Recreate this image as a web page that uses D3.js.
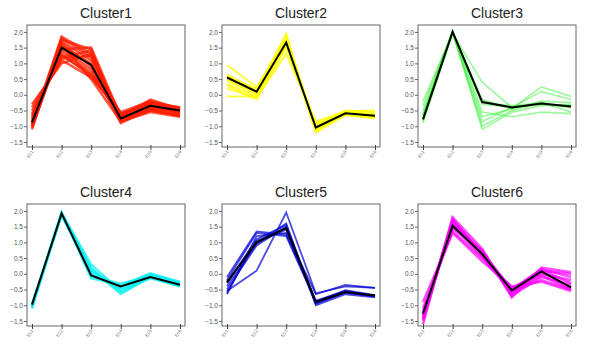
<!DOCTYPE html>
<html><head><meta charset="utf-8">
<script src="https://cdn.jsdelivr.net/npm/d3@7"></script>
<style>body{margin:0;background:#fff}svg{display:block}</style>
</head><body>
<script>
const samples = ["E01","E02","E03","E04","E05","E06"];
const yTicks = [2.0,1.5,1.0,0.5,0.0,-0.5,-1.0,-1.5];
const clusterNames = ["Cluster1","Cluster2","Cluster3","Cluster4","Cluster5","Cluster6"];
const clusterColors = ["rgba(255,30,0,0.75)","rgba(255,255,0,0.75)","rgba(40,240,40,0.45)","rgba(0,240,240,0.7)","rgba(0,0,215,0.7)","rgba(255,0,255,0.7)"];
const memberWidths = [2.5,2,1.6,2.2,1.8,2.5];

const means1 = [-0.88,1.5,0.95,-0.75,-0.35,-0.5];
const members1 = [
 [-1.1,1.75,1.45,-0.85,-0.5,-0.65],[-1.0,1.8,1.2,-0.8,-0.4,-0.6],[-0.95,1.65,0.9,-0.9,-0.45,-0.55],
 [-0.85,1.55,1.0,-0.7,-0.3,-0.5],[-0.8,1.4,0.7,-0.65,-0.2,-0.45],[-0.7,1.3,0.6,-0.6,-0.25,-0.4],
 [-0.5,1.15,1.25,-0.75,-0.35,-0.55],[-0.3,1.0,1.3,-0.7,-0.15,-0.45],[-1.05,1.6,0.5,-0.85,-0.55,-0.7],
 [-0.9,1.7,1.1,-0.6,-0.3,-0.6],[-0.6,1.2,1.4,-0.8,-0.4,-0.5],[-1.0,1.5,0.8,-0.75,-0.5,-0.65],
 [-0.75,1.45,1.5,-0.7,-0.25,-0.4],[-0.4,1.1,0.55,-0.55,-0.2,-0.5],[-0.95,1.85,1.3,-0.8,-0.45,-0.68],
 [-0.65,1.25,0.65,-0.62,-0.28,-0.42]
];
const means2 = [0.55,0.1,1.66,-1.04,-0.59,-0.67];
const members2 = [
 [0.95,0.25,1.7,-1.0,-0.55,-0.65],[0.65,0.15,1.8,-1.1,-0.6,-0.7],[0.6,0.1,1.95,-1.15,-0.62,-0.72],
 [0.5,0.05,1.6,-0.95,-0.55,-0.6],[0.45,0.0,1.75,-1.05,-0.58,-0.68],[0.35,-0.05,1.5,-1.0,-0.5,-0.55],
 [0.2,-0.1,1.3,-0.85,-0.52,-0.5],[-0.05,-0.05,1.65,-1.2,-0.65,-0.75],[0.55,0.2,1.85,-1.1,-0.6,-0.7],
 [0.3,-0.15,1.55,-0.9,-0.55,-0.62]
];
const means3 = [-0.78,2.0,-0.23,-0.4,-0.28,-0.37];
const members3 = [
 [-0.2,1.95,0.4,-0.4,-0.3,-0.35],[-0.35,2.0,-0.15,-0.45,0.25,-0.05],[-0.5,2.0,-0.3,-0.4,0.1,-0.15],
 [-0.65,2.05,-0.55,-0.7,-0.55,-0.6],[-0.7,2.0,-0.7,-0.45,-0.2,-0.25],[-0.85,1.95,-0.85,-0.4,-0.3,-0.4],
 [-0.9,2.0,-1.0,-0.5,-0.25,-0.55],[-0.75,2.0,-1.1,-0.55,-0.35,-0.3],[-0.8,2.0,-0.2,-0.4,-0.3,-0.35],
 [-0.6,1.95,-0.25,-0.35,-0.25,-0.4]
];
const means4 = [-0.98,1.92,-0.05,-0.4,-0.1,-0.35];
const members4 = [
 [-1.1,1.95,0.3,-0.55,-0.05,-0.3],[-1.05,1.9,0.15,-0.65,-0.1,-0.35],[-1.0,1.85,0.0,-0.5,-0.15,-0.4],
 [-0.95,1.95,-0.15,-0.35,0.0,-0.25],[-1.0,1.9,0.1,-0.45,-0.05,-0.3],[-1.05,1.95,-0.1,-0.3,-0.1,-0.4],
 [-1.1,1.9,0.2,-0.6,-0.12,-0.38],[-0.98,1.88,0.05,-0.4,0.02,-0.28]
];
const means5 = [-0.27,1.0,1.45,-0.9,-0.58,-0.69];
const members5 = [
 [-0.1,1.35,1.25,-0.85,-0.55,-0.7],[-0.2,1.3,1.2,-0.9,-0.6,-0.72],[-0.3,1.1,1.55,-0.95,-0.6,-0.7],
 [-0.4,0.95,1.6,-1.0,-0.65,-0.75],[-0.5,0.9,1.5,-0.9,-0.55,-0.7],[-0.25,1.0,1.4,-0.95,-0.58,-0.72],
 [-0.6,1.05,1.45,-0.88,-0.52,-0.68],[-0.55,0.1,1.95,-0.62,-0.4,-0.45],[-0.65,1.2,1.3,-0.65,-0.35,-0.45]
];
const means6 = [-1.27,1.53,0.63,-0.53,0.08,-0.43];
const members6 = [
 [-1.6,1.8,0.8,-0.75,0.2,0.05],[-1.5,1.7,0.7,-0.6,0.1,0.0],[-1.4,1.6,0.6,-0.5,0.15,-0.1],
 [-1.3,1.5,0.55,-0.45,0.0,-0.2],[-1.2,1.45,0.75,-0.7,-0.1,-0.35],[-1.1,1.35,0.5,-0.55,-0.2,-0.5],
 [-0.9,1.3,0.4,-0.4,-0.25,-0.55],[-1.35,1.65,0.65,-0.65,0.05,-0.45],[-1.25,1.55,0.7,-0.5,0.12,-0.3],
 [-1.45,1.75,0.6,-0.6,-0.05,-0.5]
];
const allMeans = [means1,means2,means3,means4,means5,means6];
const allMembers = [members1,members2,members3,members4,members5,members6];

const W = 590, H = 348;
const svg = d3.select("body").append("svg").attr("width",W).attr("height",H);
const boxLefts = [27,222,418], boxW = 158, boxTops = [25,204], boxH = 122;

clusterNames.forEach((name,i) => {
  const col = i % 3, row = Math.floor(i/3);
  const g = svg.append("g").attr("transform",`translate(${boxLefts[col]},${boxTops[row]})`);
  const x = d3.scalePoint().domain(samples).range([5, boxW-5]);
  const y = d3.scaleLinear().domain([-1.66,2.22]).range([boxH,0]);
  const line = d3.line().x((d,j)=>x(samples[j])).y(d=>y(d));
  g.append("g").selectAll("path").data(allMembers[i]).join("path")
    .attr("d",line).attr("fill","none").attr("stroke",clusterColors[i]).attr("stroke-width",memberWidths[i]);
  g.append("path").datum(allMeans[i]).attr("d",line).attr("fill","none")
    .attr("stroke","#000").attr("stroke-width",2);
  g.append("rect").attr("width",boxW).attr("height",boxH).attr("fill","none").attr("stroke","#666").attr("stroke-width",1);
  const ya = g.append("g").call(d3.axisLeft(y).tickValues(yTicks).tickFormat(d3.format(".1f")).tickSize(3).tickPadding(1));
  ya.select(".domain").remove();
  ya.selectAll("line").attr("stroke","#666");
  ya.selectAll("text").attr("font-family","Liberation Sans, Arial, sans-serif").attr("font-size",6.5).attr("fill","#555");
  const xa = g.append("g").attr("transform",`translate(0,${boxH})`).call(d3.axisBottom(x).tickSize(3).tickPadding(2));
  xa.select(".domain").remove();
  xa.selectAll("line").attr("stroke","#444").attr("y1",-2);
  xa.selectAll("text").attr("font-family","Liberation Sans, Arial, sans-serif").attr("font-size",4.5).attr("fill","#777")
    .attr("text-anchor","end").attr("dy","0.3em").attr("transform","translate(0,4) rotate(-55)").attr("x",0).attr("y",0);
  g.append("text").attr("x",boxW/2).attr("y",-7).attr("text-anchor","middle")
    .attr("font-family","Liberation Sans, Arial, sans-serif").attr("font-size",14).attr("fill","#222").text(name);
});
</script>
</body></html>
